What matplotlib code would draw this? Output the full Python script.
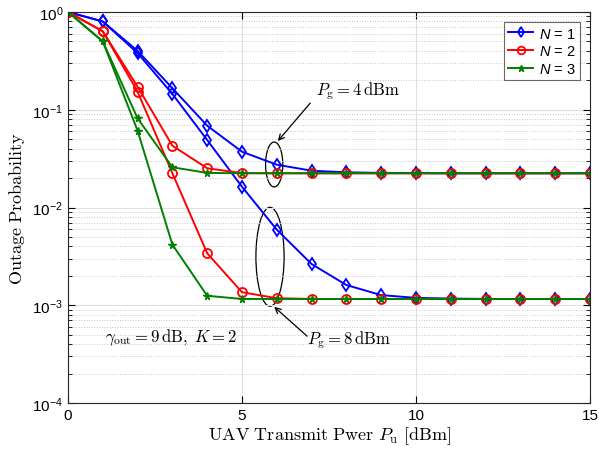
import numpy as np
import matplotlib
matplotlib.use('Agg')
import matplotlib.pyplot as plt
from matplotlib.patches import Ellipse
from matplotlib.font_manager import FontProperties
from matplotlib.ticker import LogLocator, NullFormatter

plt.rcParams['font.family'] = ['Liberation Sans', 'DejaVu Sans']
plt.rcParams['mathtext.fontset'] = 'custom'
plt.rcParams['mathtext.rm'] = 'Liberation Sans'
plt.rcParams['mathtext.it'] = 'Liberation Sans:italic'
plt.rcParams['mathtext.bf'] = 'Liberation Sans:bold'

# Data
pu = np.arange(0, 16)

n1_pg4 = [1.0, 0.80, 0.40, 0.166, 0.0687, 0.0372, 0.0274, 0.0238, 0.0229, 0.0226,
          0.0225, 0.0224, 0.0224, 0.0224, 0.0224, 0.0224]
n1_pg8 = [1.0, 0.80, 0.38, 0.145, 0.049, 0.0163, 0.00593, 0.00264, 0.00161, 0.00127,
          0.00119, 0.00117, 0.00116, 0.00116, 0.00116, 0.00116]
n2_pg4 = [1.0, 0.634, 0.172, 0.0429, 0.0252, 0.0225, 0.0224, 0.0224, 0.0224, 0.0224,
          0.0224, 0.0224, 0.0224, 0.0224, 0.0224, 0.0224]
n2_pg8 = [1.0, 0.634, 0.153, 0.0224, 0.0034, 0.00136, 0.00118, 0.00116, 0.00116, 0.00116,
          0.00116, 0.00116, 0.00116, 0.00116, 0.00116, 0.00116]
n3_pg4 = [1.0, 0.50, 0.0817, 0.0258, 0.0226, 0.0224, 0.0224, 0.0224, 0.0224, 0.0224,
          0.0224, 0.0224, 0.0224, 0.0224, 0.0224, 0.0224]
n3_pg8 = [1.0, 0.50, 0.0611, 0.00417, 0.00125, 0.00116, 0.00116, 0.00116, 0.00116, 0.00116,
          0.00116, 0.00116, 0.00116, 0.00116, 0.00116, 0.00116]

fig = plt.figure(figsize=(5.99, 4.56), dpi=100)
ax = fig.add_axes([0.1135, 0.114, 0.8715, 0.8575])

lw = 1.4
ax.semilogy(pu, n1_pg4, '-d', color='blue', mfc='none', mew=1.3, ms=6.5, lw=lw, label='$N$ = 1')
ax.semilogy(pu, n1_pg8, '-d', color='blue', mfc='none', mew=1.3, ms=6.5, lw=lw)
ax.semilogy(pu, n2_pg4, '-o', color='red', mfc='none', mew=1.3, ms=6.5, lw=lw, label='$N$ = 2')
ax.semilogy(pu, n2_pg8, '-o', color='red', mfc='none', mew=1.3, ms=6.5, lw=lw)
ax.semilogy(pu, n3_pg4, '-*', color='green', ms=5.5, lw=lw, label='$N$ = 3')
ax.semilogy(pu, n3_pg8, '-*', color='green', ms=5.5, lw=lw)

ax.set_xlim(0, 15)
ax.set_ylim(1e-4, 1)
ax.set_xticks([0, 5, 10, 15])
ax.yaxis.set_minor_locator(LogLocator(base=10, subs=np.arange(2, 10)))
ax.yaxis.set_minor_formatter(NullFormatter())
ax.grid(True, which='major', color='#e0e0e0', lw=0.8)
ax.grid(True, which='minor', axis='y', color='#c8c8c8', ls=':', lw=0.7)
ax.tick_params(which='both', direction='in', top=True, right=True, labelsize=11)
ax.tick_params(which='major', length=5)
ax.tick_params(which='minor', length=3)
for s in ax.spines.values():
    s.set_color('#262626')

ax.set_xlabel(r'$\mathrm{UAV\ Transmit\ Pwer}\ P_{\mathrm{u}}\ [\mathrm{dBm}]$',
              fontsize=13, math_fontfamily='cm', labelpad=2)
ax.set_ylabel(r'$\mathrm{Outage\ Probability}$', fontsize=13, math_fontfamily='cm', labelpad=4)

leg = ax.legend(loc='upper right', prop=FontProperties(family='Liberation Sans', size=10.5),
                fancybox=False, edgecolor='#444444', handlelength=1.7, handletextpad=0.4,
                borderaxespad=0.7, labelspacing=0.25, borderpad=0.3, markerscale=0.85)
leg.get_frame().set_linewidth(0.8)

# ellipses drawn in axes fraction coordinates
ax.add_patch(Ellipse((0.395, 0.61), 0.033, 0.115, transform=ax.transAxes,
                     fill=False, ec='black', lw=0.9))
ax.add_patch(Ellipse((0.387, 0.374), 0.054, 0.253, transform=ax.transAxes,
                     fill=False, ec='black', lw=0.9))

arrow = dict(arrowstyle='->', color='black', lw=0.9, shrinkA=0, shrinkB=0)
ax.annotate('', xy=(0.402, 0.67), xycoords='axes fraction',
            xytext=(0.464, 0.767), textcoords='axes fraction', arrowprops=arrow)
ax.annotate('', xy=(0.395, 0.246), xycoords='axes fraction',
            xytext=(0.458, 0.171), textcoords='axes fraction', arrowprops=arrow)
ax.text(0.475, 0.80, r'$P_{\mathrm{g}} = 4\,\mathrm{dBm}$', transform=ax.transAxes,
        fontsize=12, math_fontfamily='cm', ha='left', va='center')
ax.text(0.458, 0.164, r'$P_{\mathrm{g}} = 8\,\mathrm{dBm}$', transform=ax.transAxes,
        fontsize=12, math_fontfamily='cm', ha='left', va='center')
ax.text(0.071, 0.169, r'$\gamma_{\mathrm{out}} = 9\,\mathrm{dB},\ K = 2$', transform=ax.transAxes,
        fontsize=12, math_fontfamily='cm', ha='left', va='center')

fig.savefig('out.png', dpi=100)
